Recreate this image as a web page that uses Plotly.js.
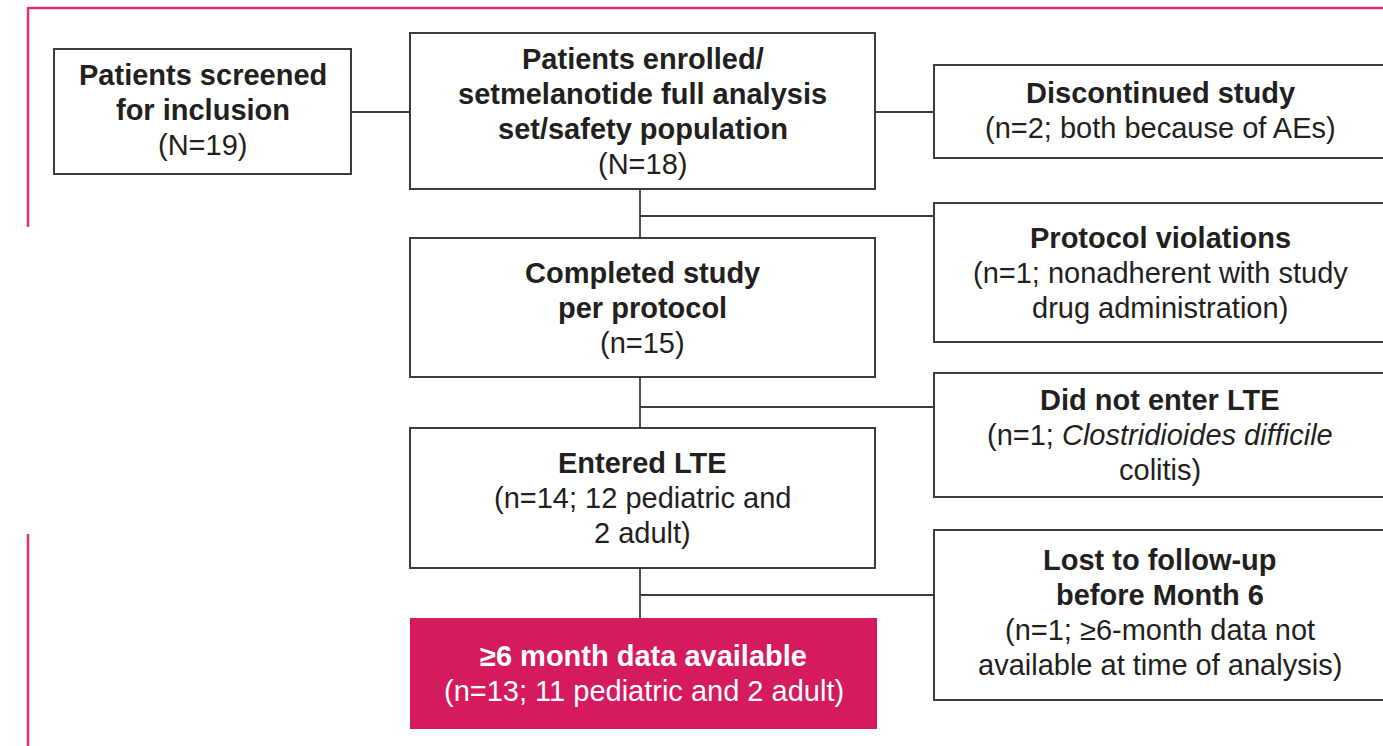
<!DOCTYPE html>
<html>
<head>
<meta charset="utf-8">
<script src="https://cdn.plot.ly/plotly-3.0.1.min.js"></script>
<style>html,body{margin:0;padding:0;background:#fff;}#chart{width:1383px;height:746px;}</style>
</head>
<body>
<div id="chart"></div>
<script>
// ---- data ----
const boxTitles = [
  "Patients screened<br>for inclusion",
  "Patients enrolled/<br>setmelanotide full analysis<br>set/safety population",
  "Discontinued study",
  "Protocol violations",
  "Completed study<br>per protocol",
  "Did not enter LTE",
  "Entered LTE",
  "Lost to follow-up<br>before Month 6",
  "≥6 month data available"
];
const boxDetails = [
  "(N=19)",
  "(N=18)",
  "(n=2; both because of AEs)",
  "(n=1; nonadherent with study<br>drug administration)",
  "(n=15)",
  "(n=1; <i>Clostridioides difficile</i><br>colitis)",
  "(n=14; 12 pediatric and<br>2 adult)",
  "(n=1; ≥6-month data not<br>available at time of analysis)",
  "(n=13; 11 pediatric and 2 adult)"
];
const patientCounts = [19, 18, 2, 1, 15, 1, 14, 1, 13];

// ---- layout geometry (pixel space) ----
const boxX0 = [54, 410, 934, 934, 410, 934, 410, 934, 410];
const boxX1 = [351, 875, 1392, 1392, 875, 1392, 875, 1392, 877];
const boxY0 = [49, 33, 65, 203, 238, 373, 428, 530, 618];
const boxY1 = [174, 189, 158, 342, 377, 497, 568, 700, 729];
const textShiftY = [-1.5, 0, -1, 0, 0, 0, 0, -2.5, 0];
const highlight = [false,false,false,false,false,false,false,false,true];

const PINK = "#d51a5e";
const FRAME = "#e2326e";
const INK = "#231f20";
const LINE = "#3c3c3c";
const FONT = "Arial, 'Liberation Sans', Helvetica, sans-serif";
const FSIZE = 29;
const LSTEP = 35;

const shapes = [];
const annotations = [];

// frame
shapes.push({type:"line", xref:"x", yref:"y", x0:28, x1:1395, y0:8, y1:8, line:{color:FRAME, width:2.5}});
shapes.push({type:"line", xref:"x", yref:"y", x0:28, x1:28, y0:7, y1:227, line:{color:FRAME, width:2.5}});
shapes.push({type:"line", xref:"x", yref:"y", x0:28, x1:28, y0:534, y1:750, line:{color:FRAME, width:2.5}});

// connectors
const conn = [
  [351,112,410,112],
  [875,112,934,112],
  [640,189,640,238],
  [640,216,934,216],
  [640,377,640,428],
  [640,407,934,407],
  [640,568,640,618],
  [640,595,934,595]
];
conn.forEach(c => shapes.push({type:"line", xref:"x", yref:"y", x0:c[0], y0:c[1], x1:c[2], y1:c[3], line:{color:LINE, width:1.8}}));

for (let i = 0; i < boxTitles.length; i++) {
  const hl = highlight[i];
  shapes.push({
    type:"rect", xref:"x", yref:"y",
    x0:boxX0[i], x1:boxX1[i], y0:boxY0[i], y1:boxY1[i],
    line:{color: hl ? PINK : LINE, width: hl ? 0 : 2},
    fillcolor: hl ? PINK : "#ffffff",
    layer:"below"
  });
  const cx = boxX1[i] > 1383 ? 1160 : (boxX0[i] + boxX1[i]) / 2;
  const cy = (boxY0[i] + boxY1[i]) / 2 + textShiftY[i];
  const lines = boxTitles[i].split("<br>").map(s => "<b>" + s + "</b>")
    .concat(boxDetails[i].split("<br>"));
  const n = lines.length;
  lines.forEach((t, k) => {
    annotations.push({
      xref:"x", yref:"y", x:cx, y:cy + (k - (n - 1) / 2) * LSTEP,
      xanchor:"center", yanchor:"middle",
      showarrow:false, align:"center", text:t,
      font:{family:FONT, size:FSIZE, color: hl ? "#ffffff" : INK}
    });
  });
}

// invisible trace carrying the counts so the axes exist
const trace = {
  x: boxX0.map((v,i)=> boxX1[i] > 1383 ? 1160 : (v+boxX1[i])/2),
  y: boxY0.map((v,i)=> (v+boxY1[i])/2),
  text: patientCounts.map(String),
  mode:"markers", marker:{opacity:0}, hoverinfo:"text", showlegend:false
};

const layout = {
  width:1383, height:746,
  margin:{l:0, r:0, t:0, b:0},
  paper_bgcolor:"#ffffff", plot_bgcolor:"#ffffff",
  xaxis:{range:[0,1383], visible:false, fixedrange:true},
  yaxis:{range:[746,0], visible:false, fixedrange:true},
  shapes: shapes,
  annotations: annotations,
  showlegend:false
};

Plotly.newPlot("chart", [trace], layout, {displayModeBar:false, staticPlot:true});
</script>
</body>
</html>
